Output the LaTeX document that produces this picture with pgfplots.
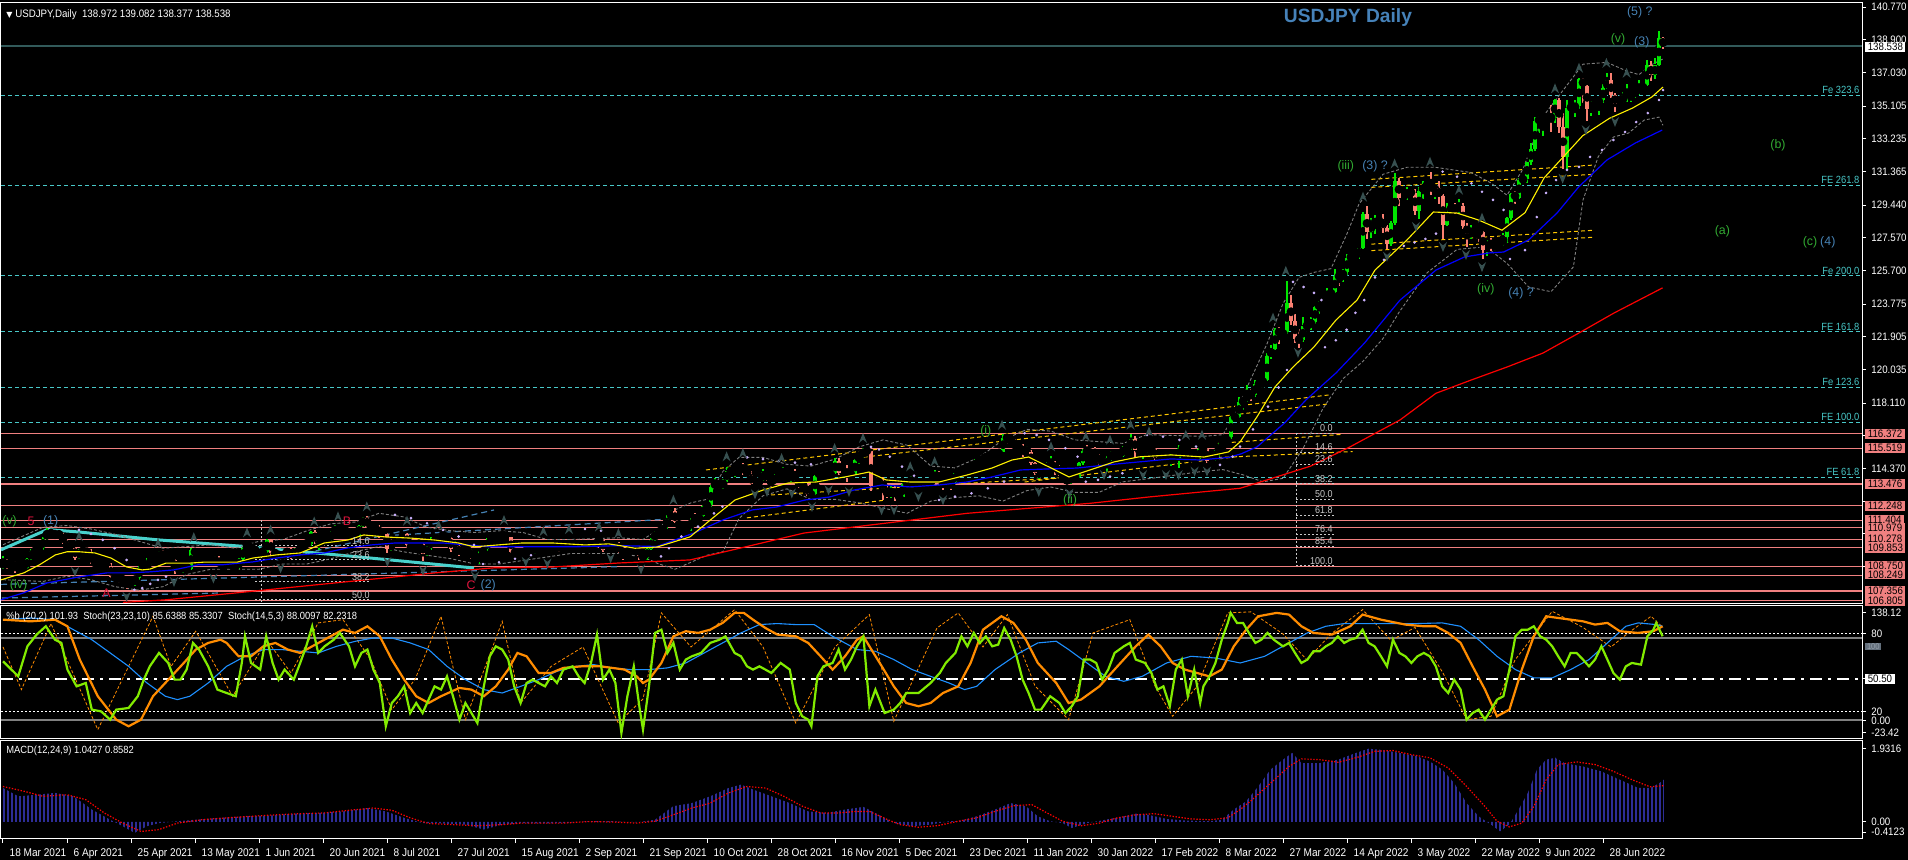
\documentclass[border=0pt]{standalone}
\usepackage{fontspec}
\setmainfont{Liberation Sans}
\newfontfamily\mt[FakeStretch=0.9]{Liberation Sans}
\newfontfamily\sym{DejaVu Sans}
\usepackage{pgfplots}
\usepackage{pgfplotstable}
\pgfplotsset{compat=1.18}
\usetikzlibrary{patterns.meta}
\newcommand\fs[1]{\fontsize{#1}{#1}\selectfont}
\definecolor{bullc}{RGB}{0,230,0}
\definecolor{bearc}{RGB}{250,128,114}
\definecolor{salm}{RGB}{240,128,128}
\definecolor{cyd}{RGB}{72,200,200}
\definecolor{teal2}{RGB}{50,90,90}
\definecolor{goldd}{RGB}{255,200,0}
\definecolor{steel}{RGB}{70,130,180}
\definecolor{turq}{RGB}{72,209,204}
\definecolor{bbg}{RGB}{128,128,128}
\definecolor{sarc}{RGB}{200,175,250}
\definecolor{frac}{RGB}{55,80,80}
\definecolor{limec}{RGB}{130,235,0}
\definecolor{orc}{RGB}{255,140,0}
\definecolor{dblue}{RGB}{30,144,255}
\definecolor{macdc}{RGB}{45,45,150}
\definecolor{wgreen}{RGB}{50,170,50}
\definecolor{wred}{RGB}{220,20,60}
\definecolor{titlec}{RGB}{70,130,185}
\definecolor{fibc}{RGB}{200,200,200}

\pgfdeclareplotmark{fup}{%
 \pgfpathmoveto{\pgfqpoint{0pt}{1.1\pgfplotmarksize}}%
 \pgfpathlineto{\pgfqpoint{0.85\pgfplotmarksize}{-1\pgfplotmarksize}}%
 \pgfpathlineto{\pgfqpoint{0pt}{-0.3\pgfplotmarksize}}%
 \pgfpathlineto{\pgfqpoint{-0.85\pgfplotmarksize}{-1\pgfplotmarksize}}%
 \pgfpathclose\pgfusepathqfill}
\pgfdeclareplotmark{fdown}{%
 \pgfpathmoveto{\pgfqpoint{0pt}{-1.1\pgfplotmarksize}}%
 \pgfpathlineto{\pgfqpoint{0.85\pgfplotmarksize}{1\pgfplotmarksize}}%
 \pgfpathlineto{\pgfqpoint{0pt}{0.3\pgfplotmarksize}}%
 \pgfpathlineto{\pgfqpoint{-0.85\pgfplotmarksize}{1\pgfplotmarksize}}%
 \pgfpathclose\pgfusepathqfill}

\pgfplotsset{
  mt/.style={scale only axis, anchor=north west, width=930.5pt, xmin=-0.5, xmax=464.75,
    axis line style={white, line width=0.5pt},
    tick style={white, line width=0.5pt}, tick align=outside, major tick length=2pt,
    ytick pos=right, yticklabel pos=right, xtick pos=bottom,
    ticklabel style={font=\mt\fs{5.4}, text=white},
    yticklabel style={xshift=-0.8pt},
    clip mode=individual,
    /pgf/number format/assume math mode=true},
}
\tikzset{wl/.style={font=\fs{6.2}, inner sep=0pt}}

\pgfplotstableread{
o h l c
108.85 109.36 108.61 108.92
108.92 109.20 108.61 108.88
108.88 108.95 108.80 108.86
108.86 109.05 108.41 108.83
108.83 108.90 108.43 108.58
108.58 108.85 108.42 108.69
108.69 109.25 108.60 109.18
109.18 109.74 109.10 109.64
109.64 109.70 109.58 109.62
109.62 109.86 109.46 109.80
109.80 110.42 109.71 110.35
110.35 110.97 110.25 110.72
110.72 110.86 110.44 110.61
110.61 110.69 110.46 110.61
110.61 110.65 110.53 110.58
110.58 110.68 110.05 110.16
110.16 110.30 109.70 109.74
109.74 109.98 109.63 109.84
109.84 109.86 109.13 109.26
109.26 109.76 109.18 109.66
109.66 109.70 109.60 109.63
109.63 109.85 109.36 109.40
109.40 109.77 108.90 109.07
109.07 109.14 108.77 108.91
108.91 109.02 108.61 108.77
108.77 108.95 108.62 108.78
108.78 108.84 108.74 108.80
108.80 108.95 108.11 108.16
108.16 108.27 107.96 108.10
108.10 108.35 107.79 108.07
108.07 108.16 107.85 107.96
107.96 108.05 107.48 107.89
107.89 107.95 107.82 107.90
107.90 108.20 107.66 108.11
108.11 108.79 108.01 108.69
108.69 108.90 108.49 108.59
108.59 109.22 108.50 108.92
108.92 109.37 108.85 109.31
109.31 109.38 109.25 109.33
109.33 109.63 109.12 109.42
109.42 109.69 109.18 109.38
109.38 109.50 109.13 109.20
109.20 109.32 108.96 109.10
109.10 109.17 108.34 108.59
108.59 108.65 108.52 108.60
108.60 108.91 108.40 108.79
108.79 108.88 108.54 108.62
108.62 109.79 108.54 109.69
109.69 109.79 109.33 109.49
109.49 109.64 109.19 109.36
109.36 109.42 109.30 109.37
109.37 109.40 109.11 109.21
109.21 109.28 108.86 108.91
108.91 109.35 108.86 109.20
109.20 109.33 108.73 108.77
108.77 109.00 108.56 108.97
108.97 109.02 108.92 108.98
108.98 109.08 108.70 108.75
108.75 108.86 108.56 108.74
108.74 109.23 108.63 109.17
109.17 109.90 109.10 109.83
109.83 110.19 109.76 109.84
109.84 109.90 109.78 109.85
109.85 109.89 109.48 109.58
109.58 109.71 109.32 109.49
109.49 109.83 109.42 109.58
109.58 110.33 109.54 110.29
110.29 110.35 109.38 109.52
109.52 109.58 109.46 109.50
109.50 109.64 109.19 109.25
109.25 109.61 109.21 109.48
109.48 109.77 109.41 109.64
109.64 109.84 109.18 109.33
109.33 109.80 109.27 109.66
109.66 109.72 109.60 109.68
109.68 110.10 109.62 110.06
110.06 110.22 109.97 110.07
110.07 110.81 109.95 110.71
110.71 110.82 110.05 110.19
110.19 110.46 109.70 110.21
110.21 110.26 110.12 110.18
110.18 110.47 109.99 110.34
110.34 110.79 110.24 110.65
110.65 111.11 110.59 110.98
110.98 111.01 110.80 110.87
110.87 110.95 110.60 110.76
110.76 110.82 110.70 110.74
110.74 110.75 110.45 110.62
110.62 110.68 110.33 110.53
110.53 111.11 110.50 111.10
111.10 111.61 111.00 111.54
111.54 111.66 110.97 111.03
111.03 111.09 110.97 111.02
111.02 111.10 110.86 110.95
110.95 111.13 110.38 110.62
110.62 110.77 110.47 110.64
110.64 110.65 109.53 109.77
109.77 110.20 109.63 110.14
110.14 110.20 110.08 110.16
110.16 110.45 110.01 110.35
110.35 110.70 110.25 110.61
110.61 110.68 109.90 109.97
109.97 110.04 109.72 109.82
109.82 110.15 109.73 110.07
110.07 110.12 109.99 110.05
110.05 110.08 109.07 109.45
109.45 109.94 109.35 109.85
109.85 110.42 109.72 110.30
110.30 110.37 110.04 110.13
110.13 110.60 110.10 110.55
110.55 110.60 110.50 110.53
110.53 110.59 110.25 110.37
110.37 110.43 109.60 109.77
109.77 110.21 109.67 109.91
109.91 109.99 109.36 109.47
109.47 109.81 109.42 109.71
109.71 109.76 109.66 109.69
109.69 109.74 109.20 109.30
109.30 109.36 108.72 109.05
109.05 109.63 108.90 109.47
109.47 109.80 109.44 109.78
109.78 110.37 109.66 110.24
110.24 110.30 110.18 110.25
110.25 110.37 110.16 110.29
110.29 110.61 110.19 110.59
110.59 110.80 110.34 110.41
110.41 110.49 110.32 110.42
110.42 110.46 109.55 109.58
109.58 109.63 109.52 109.56
109.56 109.63 109.12 109.25
109.25 109.66 109.11 109.60
109.60 109.91 109.51 109.77
109.77 110.03 109.60 109.74
109.74 109.98 109.48 109.78
109.78 109.83 109.74 109.80
109.80 110.06 109.61 109.72
109.72 109.86 109.59 109.68
109.68 110.12 109.56 110.04
110.04 110.19 109.91 110.07
110.07 110.10 109.59 109.82
109.82 109.88 109.77 109.84
109.84 110.07 109.80 109.91
109.91 110.23 109.85 110.02
110.02 110.22 109.90 110.03
110.03 110.11 109.88 109.93
109.93 110.00 109.59 109.71
109.71 109.78 109.66 109.73
109.73 109.92 109.69 109.83
109.83 110.28 109.80 110.27
110.27 110.44 110.14 110.25
110.25 110.29 109.61 109.72
109.72 110.05 109.69 109.93
109.93 109.98 109.88 109.91
109.91 110.16 109.85 110.01
110.01 110.15 109.53 109.69
109.69 109.75 109.11 109.39
109.39 109.84 109.34 109.71
109.71 110.08 109.68 109.93
109.93 109.98 109.82 109.85
109.85 109.93 109.11 109.38
109.38 109.53 109.15 109.22
109.22 109.84 109.15 109.78
109.78 110.38 109.70 110.28
110.28 110.80 110.19 110.74
110.74 110.80 110.68 110.77
110.77 111.07 110.62 111.00
111.00 111.68 110.92 111.48
111.48 112.00 111.46 111.93
111.93 112.08 111.25 111.29
111.29 111.39 110.89 111.05
111.05 111.10 110.98 111.03
111.03 111.18 110.82 110.93
110.93 111.54 110.81 111.44
111.44 111.79 111.24 111.42
111.42 111.82 111.38 111.64
111.64 112.25 111.60 112.23
112.23 112.30 112.15 112.26
112.26 113.41 112.15 113.28
113.28 113.80 113.19 113.60
113.60 113.73 113.18 113.29
113.29 113.75 113.18 113.68
113.68 114.47 113.60 114.21
114.21 114.27 114.15 114.25
114.25 114.46 113.89 114.38
114.38 114.60 114.08 114.37
114.37 114.70 114.02 114.31
114.31 114.42 113.85 114.01
114.01 114.22 113.41 113.49
113.49 113.55 113.43 113.52
113.52 113.81 113.42 113.70
113.70 114.31 113.63 114.14
114.14 114.21 113.66 113.81
113.81 113.90 113.26 113.57
113.57 114.04 113.46 113.95
113.95 114.02 113.90 113.98
113.98 114.44 113.90 114.00
114.00 114.11 113.72 113.95
113.95 114.15 113.61 114.06
114.06 114.32 113.63 113.75
113.75 113.82 113.25 113.41
113.41 113.47 113.35 113.40
113.40 113.46 112.81 112.89
112.89 113.17 112.73 112.89
112.89 114.02 112.85 113.96
113.96 114.20 113.87 114.15
114.15 114.30 113.76 113.87
113.87 113.93 113.82 113.90
113.90 114.16 113.80 114.11
114.11 114.97 114.06 114.81
114.81 114.95 114.00 114.09
114.09 114.38 113.90 114.27
114.27 114.54 113.60 114.00
114.00 114.07 113.95 114.04
114.04 114.92 113.99 114.86
114.86 115.17 114.64 115.07
115.07 115.52 114.99 115.40
115.40 115.43 115.15 115.35
115.35 115.37 113.06 113.38
113.38 113.60 113.30 113.50
113.50 113.95 113.37 113.67
113.67 113.88 112.56 113.17
113.17 113.38 112.69 112.78
112.78 113.38 112.66 113.18
113.18 113.39 112.53 112.79
112.79 112.88 112.70 112.75
112.75 113.51 112.71 113.46
113.46 113.80 113.37 113.55
113.55 113.94 113.40 113.73
113.73 113.83 113.35 113.49
113.49 113.62 113.14 113.41
113.41 113.47 113.36 113.43
113.43 113.68 113.36 113.55
113.55 113.78 113.42 113.72
113.72 114.26 113.63 114.05
114.05 114.21 113.64 113.73
113.73 113.85 113.14 113.70
113.70 113.76 113.63 113.68
113.68 113.76 113.14 113.61
113.61 114.12 113.55 114.08
114.08 114.28 113.97 114.12
114.12 114.47 114.06 114.43
114.43 114.48 114.30 114.39
114.39 114.44 114.33 114.37
114.37 114.88 114.32 114.81
114.81 114.95 114.71 114.83
114.83 115.04 114.60 114.98
114.98 115.18 114.90 115.08
115.08 115.19 114.96 115.08
115.08 115.14 115.02 115.10
115.10 115.50 115.01 115.33
115.33 116.35 115.29 116.13
116.13 116.28 115.78 116.12
116.12 116.21 115.70 115.84
115.84 116.06 115.49 115.56
115.56 115.62 115.50 115.58
115.58 115.75 115.05 115.25
115.25 115.68 115.12 115.29
115.29 115.42 114.58 114.66
114.66 114.71 113.99 114.12
114.12 114.39 113.74 114.20
114.20 114.27 114.14 114.22
114.22 114.74 114.15 114.61
114.61 115.06 114.34 114.61
114.61 114.78 114.01 114.33
114.33 114.59 113.96 114.12
114.12 114.13 113.62 113.68
113.68 113.76 113.62 113.70
113.70 114.04 113.47 113.95
113.95 114.07 113.60 113.88
113.88 114.71 113.82 114.68
114.68 115.50 114.58 115.35
115.35 115.69 115.08 115.26
115.26 115.32 115.19 115.24
115.24 115.57 114.95 115.13
115.13 115.20 114.56 114.69
114.69 114.79 114.33 114.49
114.49 115.07 114.15 114.97
114.97 115.39 114.81 115.20
115.20 115.26 115.14 115.22
115.22 115.38 114.97 115.10
115.10 115.67 115.04 115.56
115.56 115.64 115.34 115.55
115.55 116.34 115.45 116.04
116.04 116.22 115.01 115.42
115.42 115.50 115.36 115.45
115.45 115.66 114.92 115.57
115.57 115.78 115.24 115.58
115.58 115.68 115.33 115.48
115.48 115.56 114.80 114.95
114.95 115.24 114.83 114.99
114.99 115.05 114.93 115.01
115.01 115.15 114.62 114.75
114.75 115.18 114.52 115.04
115.04 115.11 114.87 114.98
114.98 115.70 114.40 115.54
115.54 115.77 115.32 115.55
115.55 115.60 115.20 115.30
115.30 115.37 114.88 114.98
114.98 115.08 114.69 114.88
114.88 115.56 114.85 115.48
115.48 115.80 115.41 115.47
115.47 115.53 114.65 114.78
114.78 114.90 114.70 114.85
114.85 115.45 114.82 115.31
115.31 115.80 115.02 115.69
115.69 115.90 115.47 115.85
115.85 116.20 115.74 116.14
116.14 117.35 116.06 117.29
117.29 117.40 117.20 117.33
117.33 118.45 117.24 118.15
118.15 118.45 117.70 118.27
118.27 119.12 118.14 118.65
118.65 118.90 118.24 118.59
118.59 119.41 118.46 119.17
119.17 119.30 119.08 119.22
119.22 119.46 118.98 119.44
119.44 120.95 119.39 120.80
120.80 121.41 120.61 121.18
121.18 122.42 121.17 122.30
122.30 122.44 121.48 122.04
122.04 122.30 121.95 122.15
122.15 125.10 122.05 123.86
123.86 124.31 122.55 122.81
122.81 123.20 121.55 121.79
121.79 122.37 121.28 121.70
121.70 123.04 121.60 122.51
122.51 122.65 122.40 122.55
122.55 123.04 122.31 122.77
122.77 123.68 122.65 123.59
123.59 123.97 123.21 123.77
123.77 124.04 123.63 123.97
123.97 124.68 123.92 124.34
124.34 124.50 124.25 124.45
124.45 125.77 124.38 125.38
125.38 125.63 124.82 125.35
125.35 125.76 125.04 125.63
125.63 126.64 125.45 126.43
126.43 126.68 126.28 126.45
126.45 126.60 126.35 126.50
126.50 127.01 126.38 126.97
126.97 129.02 126.92 128.90
128.90 129.40 127.50 127.89
127.89 128.71 127.53 128.41
128.41 128.85 127.77 128.50
128.50 128.70 128.40 128.60
128.60 128.91 127.86 128.13
128.13 128.31 126.95 127.23
127.23 128.55 127.12 128.39
128.39 131.25 128.32 130.82
130.82 131.01 129.37 129.85
129.85 130.05 129.75 129.95
129.95 130.48 129.72 130.19
130.19 130.30 129.89 130.14
130.14 130.35 128.87 129.12
129.12 130.45 128.62 130.22
130.22 130.80 129.80 130.56
130.56 130.70 130.40 130.60
130.60 131.34 130.04 130.30
130.30 130.52 129.76 130.42
130.42 130.81 129.50 129.93
129.93 130.07 127.52 128.32
128.32 129.55 128.25 129.19
129.19 129.35 129.10 129.25
129.25 129.57 128.91 129.17
129.17 129.77 128.94 129.38
129.38 129.54 128.05 128.24
128.24 128.40 127.03 127.79
127.79 128.30 127.52 127.88
127.88 128.05 127.80 127.95
127.95 128.12 127.35 127.88
127.88 127.93 126.36 126.86
126.86 127.45 126.55 127.32
127.32 127.56 126.82 127.11
127.11 127.32 126.81 127.11
127.11 127.25 127.00 127.15
127.15 127.84 127.10 127.61
127.61 128.76 127.29 128.68
128.68 130.14 128.60 130.06
130.06 130.23 129.51 129.87
129.87 130.98 129.76 130.87
130.87 131.00 130.80 130.95
130.95 131.93 130.70 131.90
131.90 132.99 131.71 132.64
132.64 134.47 132.55 134.22
134.22 134.56 133.55 134.39
134.39 134.48 133.39 134.40
134.40 134.60 134.30 134.50
134.50 135.19 133.60 134.43
134.43 135.50 134.15 135.45
135.45 135.59 133.55 133.92
133.92 134.68 131.49 132.20
132.20 135.44 131.50 135.00
135.00 135.15 134.85 135.05
135.05 135.44 134.45 135.08
135.08 136.71 134.96 136.64
136.64 136.71 135.27 136.25
136.25 136.29 134.27 134.95
134.95 135.37 134.54 135.21
135.21 135.35 135.10 135.25
135.25 135.58 134.57 135.46
135.46 136.38 135.27 136.13
136.13 137.00 136.05 136.59
136.59 136.97 135.56 135.72
135.72 135.83 134.75 135.21
135.21 135.40 135.15 135.30
135.30 135.91 135.25 135.71
135.71 136.38 135.36 135.88
135.88 136.00 135.31 135.93
135.93 136.18 135.54 136.02
136.02 136.57 135.75 136.07
136.07 136.35 136.00 136.30
136.30 137.75 136.25 137.43
137.43 137.68 136.55 136.87
136.87 137.87 136.66 137.43
137.43 139.38 137.38 138.97
138.97 139.08 138.38 138.54
}\ohlc

\begin{document}
\begin{tikzpicture}
\fill[black] (0pt,0pt) rectangle (954pt,-430pt);

%================ MAIN PANEL =================
\begin{axis}[mt, at={(0.5pt,-1.5pt)}, height=300.5pt, ymin=106.61, ymax=141.0,
  xtick=\empty,
  ytick={140.77,138.9,137.03,135.105,133.235,131.365,129.44,127.57,125.7,123.775,121.905,120.035,118.11,116.24,114.37,112.5,110.63,108.76},
  yticklabels={140.770,138.900,137.030,135.105,133.235,131.365,129.440,127.570,125.700,123.775,121.905,120.035,118.110,,114.370,,,},
  unbounded coords=jump]

% horizontal levels
\addplot[salm, line width=0.6pt, forget plot] coordinates {
(-0.5,116.372)(464.75,116.372)(0,nan)(-0.5,115.519)(464.75,115.519)(0,nan)
(-0.5,113.476)(464.75,113.476)(0,nan)(-0.5,112.248)(464.75,112.248)(0,nan)
(-0.5,111.404)(464.75,111.404)(0,nan)(-0.5,110.979)(464.75,110.979)(0,nan)
(-0.5,110.278)(464.75,110.278)(0,nan)(-0.5,109.853)(464.75,109.853)(0,nan)
(-0.5,108.750)(464.75,108.750)(0,nan)(-0.5,108.249)(464.75,108.249)(0,nan)
(-0.5,107.356)(464.75,107.356)(0,nan)(-0.5,106.805)(464.75,106.805)};
\addplot[cyd, line width=0.5pt, dash pattern=on 2pt off 1.5pt, forget plot] coordinates {
(-0.5,135.73)(464.75,135.73)(0,nan)(-0.5,130.58)(464.75,130.58)(0,nan)
(-0.5,125.38)(464.75,125.38)(0,nan)(-0.5,122.19)(464.75,122.19)(0,nan)
(-0.5,118.99)(464.75,118.99)(0,nan)(-0.5,117.00)(464.75,117.00)(0,nan)
(-0.5,113.86)(464.75,113.86)};
\addplot[teal2, line width=0.6pt, forget plot] coordinates {(-0.5,138.538)(464.75,138.538)};

% fibonacci (early)
\addplot[fibc, line width=0.4pt, dash pattern=on 1pt off 1pt, forget plot] coordinates {
(64.5,111.4)(64.5,106.61)(0,nan)
(63,109.94)(92,109.94)(0,nan)(63,109.15)(92,109.15)(0,nan)(63,107.88)(92,107.88)(0,nan)(63,106.85)(92,106.85)};
% fibonacci (late)
\addplot[fibc, line width=0.4pt, dash pattern=on 1pt off 1pt, forget plot] coordinates {
(323.35,116.4)(323.35,108.8)(0,nan)
(323.35,116.4)(332.75,116.4)(0,nan)(323.35,115.29)(332.75,115.29)(0,nan)
(323.35,114.61)(332.75,114.61)(0,nan)(323.35,113.5)(332.75,113.5)(0,nan)
(323.35,112.6)(332.75,112.6)(0,nan)(323.35,111.7)(332.75,111.7)(0,nan)
(323.35,110.6)(332.75,110.6)(0,nan)(323.35,109.9)(332.75,109.9)(0,nan)
(323.35,108.8)(332.75,108.8)};

% channel lines
\addplot[goldd, line width=0.5pt, dash pattern=on 2pt off 1.5pt, forget plot] coordinates {
(175.75,114.28)(331.4,118.57)(0,nan)(213.5,114.97)(331.4,118.06)(0,nan)
(192,112.85)(268.6,113.89)(0,nan)(186,111.54)(220.7,112.56)(0,nan)
(255.4,113.59)(309.25,115.06)(0,nan)(303.7,115.8)(334.97,116.32)(0,nan)
(303.7,114.99)(337.4,115.33)(0,nan)
(342.1,130.91)(397.9,131.73)(0,nan)(342.1,130.45)(397.9,131.2)(0,nan)
(342.1,127.2)(397.9,128.0)(0,nan)(342.1,126.83)(397.9,127.6)};
\addplot[steel, line width=0.6pt, dash pattern=on 3pt off 2pt, forget plot] coordinates {
(-0.25,106.95)(54.5,107.24)(0,nan)(-0.5,107.73)(154.25,108.75)(0,nan)
(68.4,109.13)(122.75,111.99)(0,nan)(98,110.55)(165,111.45)};
\addplot[turq, line width=1.5pt, forget plot] coordinates {
(-0.5,109.71)(11.1,110.87)(19,110.73)(38.75,110.28)(60.5,109.9)(88.2,109.32)(117.75,108.67)};

% Bollinger bands
\addplot[bbg, line width=0.45pt, dash pattern=on 1.5pt off 1pt, forget plot] coordinates {
(0,110.0)(10,111.0)(16,111.1)(22,110.9)(28,110.6)(34,110.2)(40,109.8)(46,109.9)(52,110.0)(58,109.8)(64,110.2)(70,110.3)(76,110.8)(82,111.2)(88,111.3)(94,111.8)(100,111.6)(106,111.0)(112,110.8)(118,110.7)(124,110.8)(130,110.7)(136,110.3)(142,110.3)(148,110.35)(154,110.4)(160,110.3)(164,110.9)(168,112.0)(172,112.4)(176,112.6)(180,114.2)(184,115.0)(190,115.0)(196,114.6)(202,114.5)(208,114.9)(214,115.6)(220,116.0)(226,115.7)(232,114.5)(238,114.4)(244,115.0)(250,116.0)(256,116.6)(262,116.5)(268,116.0)(274,115.9)(280,115.8)(286,116.3)(300,116.2)(305,116.3)(308,117.5)(312,119.5)(316,121.5)(320,123.8)(324,125.3)(328,125.6)(332,125.8)(336,127.8)(339,129.5)(345,131.2)(351,131.6)(358,131.6)(367,131.3)(372,130.7)(376,130.0)(380,131.5)(385,134.5)(390,136.0)(395,137.5)(401,137.6)(406,137.1)(409,136.9)(412,137.45)(415,137.8)};
\addplot[bbg, line width=0.45pt, dash pattern=on 1.5pt off 1pt, forget plot] coordinates {
(0,108.0)(10,107.9)(16,108.2)(22,108.0)(28,107.6)(34,107.4)(40,107.6)(46,108.3)(52,108.6)(58,108.6)(64,108.6)(70,108.9)(76,108.9)(82,109.2)(88,109.6)(94,109.9)(100,109.6)(106,109.4)(112,109.2)(118,108.9)(124,108.9)(130,109.1)(136,109.3)(142,109.5)(148,109.5)(154,109.5)(160,109.3)(164,108.9)(168,108.6)(172,109.0)(176,109.4)(180,109.6)(184,111.5)(190,112.8)(196,113.2)(202,112.6)(208,112.6)(214,112.4)(220,112.1)(226,111.8)(232,112.5)(238,112.7)(244,112.8)(250,112.5)(256,113.1)(262,113.3)(268,113.0)(274,113.0)(280,113.6)(287,113.8)(300,114.2)(305,114.3)(310,114.0)(315,113.6)(320,113.8)(325,115.5)(330,117.8)(335,119.5)(340,120.5)(345,121.8)(349,123.3)(356,125.56)(363.5,126.9)(370.75,127.05)(376,126.1)(381.4,124.75)(387,124.48)(392.6,125.9)(395,129.73)(398.8,132.2)(402.6,133.33)(406.4,133.56)(410.3,134.3)(414,134.47)(415,134.0)};

% candles
\addplot[only marks, mark=none, forget plot, restrict expr to domain={\thisrow{c}-\thisrow{o}}{0:100},
  error bars/.cd, y dir=both, y explicit, error mark=none, error bar style={draw=bullc, line width=0.6pt}]
  table[x expr=\coordindex, y expr={(\thisrow{h}+\thisrow{l})/2}, y error expr={(\thisrow{h}-\thisrow{l})/2}]{\ohlc};
\addplot[only marks, mark=none, forget plot, restrict expr to domain={\thisrow{c}-\thisrow{o}}{-100:-0.0001},
  error bars/.cd, y dir=both, y explicit, error mark=none, error bar style={draw=bearc, line width=0.6pt}]
  table[x expr=\coordindex, y expr={(\thisrow{h}+\thisrow{l})/2}, y error expr={(\thisrow{h}-\thisrow{l})/2}]{\ohlc};
\addplot[only marks, mark=none, forget plot, restrict expr to domain={\thisrow{c}-\thisrow{o}}{0:100},
  error bars/.cd, y dir=both, y explicit, error mark=none, error bar style={draw=bullc, line width=1.6pt}]
  table[x expr=\coordindex, y expr={(\thisrow{o}+\thisrow{c})/2}, y error expr={max(abs(\thisrow{c}-\thisrow{o})/2,0.012)}]{\ohlc};
\addplot[only marks, mark=none, forget plot, restrict expr to domain={\thisrow{c}-\thisrow{o}}{-100:-0.0001},
  error bars/.cd, y dir=both, y explicit, error mark=none, error bar style={draw=bearc, line width=1.6pt}]
  table[x expr=\coordindex, y expr={(\thisrow{o}+\thisrow{c})/2}, y error expr={max(abs(\thisrow{c}-\thisrow{o})/2,0.012)}]{\ohlc};

% moving averages
\addplot[red, line width=0.6pt, forget plot] coordinates {
(30,106.7)(40.75,106.85)(58.5,107.25)(78,107.7)(98,108.16)(108,108.39)(122.75,108.68)(137.5,108.73)(154.25,108.96)(171.75,109.13)(200.25,110.67)(241.1,111.8)(271.7,112.37)(286.75,112.74)(309.25,113.23)(313.5,113.53)(326.9,114.5)(336.75,115.6)(349.25,117.14)(358.25,118.67)(367.1,119.43)(376,120.17)(385,120.97)(394,122.12)(402.75,123.26)(414.9,124.7)};
\addplot[blue, line width=0.6pt, forget plot] coordinates {
(-0.5,106.85)(5.2,107.25)(11.1,107.82)(19,108.16)(26,108.39)(31.9,108.39)(36.8,108.45)(42.7,108.56)(48.7,108.85)(54.6,108.85)(62.5,109.02)(68.4,109.24)(74.3,109.42)(80.3,109.53)(86.2,109.82)(92.1,109.99)(98,110.1)(104,110.1)(110,110.1)(115.8,109.99)(121.8,109.88)(127.7,109.88)(133.6,109.88)(142.5,109.88)(154.25,109.95)(163.5,109.9)(172.75,110.67)(180,111.42)(187.25,111.99)(193.4,112.16)(200.5,112.56)(206.6,112.73)(212.75,113.13)(219.75,113.42)(226.75,113.31)(234,113.42)(241,113.59)(247.25,113.88)(254.4,114.28)(261.5,114.34)(268.6,114.39)(276,114.57)(284,114.74)(292,114.91)(299.25,114.85)(306.4,115.0)(309.5,115.2)(313.5,115.6)(320.4,116.97)(325.75,118.29)(333.25,119.83)(340.4,121.55)(349.25,124.0)(358.25,125.72)(365.4,126.47)(371.6,126.7)(375.15,126.75)(381.4,127.44)(388.5,128.98)(393.9,130.47)(401,132.02)(408.1,132.99)(414.8,133.73)};
\addplot[yellow, line width=0.55pt, forget plot] coordinates {
(-0.5,107.99)(5.2,108.39)(9.1,108.85)(13.1,109.42)(16.05,109.6)(19,109.6)(23,109.53)(27,109.24)(30.9,108.73)(34.8,108.56)(36.8,108.61)(40.75,108.95)(46.75,108.95)(50.6,109.01)(54.6,109.01)(58.6,109.01)(62.5,109.24)(68.4,109.42)(74.3,109.53)(80.3,110.1)(86.2,110.27)(90.2,110.56)(96,110.44)(102,110.38)(108,110.27)(113.9,110.1)(117.8,109.88)(123.75,109.99)(129.7,110.1)(137.5,110.1)(145.5,109.99)(151.4,110.05)(154.25,109.95)(158,109.8)(163.5,109.87)(171.75,110.45)(177.75,111.59)(183,112.56)(190,113.13)(196.25,113.53)(203.25,113.59)(210.5,113.88)(216.5,114.16)(220.75,113.71)(226.75,113.59)(234,113.59)(241,113.99)(247.25,114.39)(252.25,114.85)(256.4,115.02)(261.5,114.45)(266.5,113.88)(271.75,114.28)(277.75,114.74)(284,115.03)(292,115.14)(300.25,115.02)(306.4,115.31)(309.25,115.88)(313.5,117.32)(318,119.03)(322.5,120.17)(327.75,121.32)(333.25,122.86)(338.5,124.0)(343,125.72)(351,127.44)(357.6,129.04)(363.5,128.98)(368.9,128.58)(374.75,128.0)(380.5,129.0)(385.3,131.0)(389.3,132.0)(394.9,133.4)(401.6,134.4)(407.4,134.99)(412.2,135.62)(415,136.19)};

% parabolic SAR dots
\addplot[only marks, mark=*, mark size=0.45pt, sarc, forget plot] coordinates {
(19,110.85)(22,110.62)(24.95,110.28)(27.9,109.8)(30.9,109.13)
(32.85,107.42)(34.8,107.52)(36.8,107.76)(38.75,107.99)(40.75,108.18)
(98,111.71)(102,111.52)(106,111.23)(110,110.85)(113.9,110.47)(117.75,109.99)
(120,108.9)(124,109.0)(128,109.2)(132,109.4)
(145.5,110.9)(149.5,110.8)(154,110.6)
(164.5,109.33)(166.5,109.8)(169.6,110.47)(173.75,111.04)(177.75,111.8)(179.85,112.18)
(186,115.0)(190,114.9)(194,114.8)(198,114.7)(202,114.6)
(217,115.6)(219,115.45)(221.7,115.04)(224.75,114.47)(227.75,113.95)
(234,112.56)(238,112.75)(242.1,112.94)(246.2,113.23)(250.25,113.61)
(255.4,116.38)(258.4,116.28)(261.5,116.0)(265.6,115.52)(268.65,115.04)
(270.7,113.61)(273.75,113.71)(276.75,113.9)(279.85,114.09)
(286,116.28)(290,116.19)(294.1,116.0)(298.25,115.62)
(301.25,114.18)(304.25,114.57)(307.4,115.04)(309.25,115.62)(312.5,116.6)(316.25,117.9)(318.9,119.0)(321,120.0)
(322.5,125.04)(325.15,124.75)(327.75,124.41)(329.6,124.0)
(330.5,121.3)(333.2,121.7)(335.9,122.3)(338.1,123.27)(340.3,124.0)(343,125.3)(345.25,126.3)(350.2,127.1)(352.9,127.3)(355.6,127.5)(358.25,127.8)
(359.9,131.35)(363.5,131.06)(367.1,130.68)(369.75,130.2)(372.5,129.73)(375.15,129.16)
(376.75,126.35)(380.5,126.86)(383.45,128.75)(385.75,130.13)(388.25,130.87)(391,131.45)(394,131.62)(396.75,132.19)(399.75,132.59)(402.6,133.16)(405.5,133.62)(408.3,134.19)(411.2,134.7)(414,135.45)(415,136.02)};

% fractals
\addplot[only marks, mark=fup, mark size=2.4pt, frac, forget plot] coordinates {
(19,110.47)(38.75,110.08)(47.7,110.42)(61,110.69)(66.9,110.85)(77.8,111.32)(83.75,111.61)(90.95,112.18)(101,111.36)(108.9,111.13)(125.25,111.4)(135.1,110.76)(141.5,110.88)(149,111.03)(153.85,110.65)(167.6,112.56)(180.9,115.04)(184.97,115.23)(194.65,114.95)(207.9,115.52)(215,116.1)(226.8,114.47)(232.9,114.76)(249.75,116.85)(262,115.61)(270.7,116.19)(276.75,116.0)(281.9,116.85)(286.5,116.47)(295.7,116.28)(299.75,116.28)(317.5,122.98)(320.7,125.66)(340,129.9)(347.9,131.8)(356.75,131.9)(364,130.3)(369.75,128.7)(388,136.1)(394,137.28)(400.85,137.56)(405.9,136.99)};
\addplot[only marks, mark=fdown, mark size=2.4pt, frac, forget plot] coordinates {
(18,108.46)(30.9,107.03)(42.75,107.88)(52.6,108.08)(69.4,108.66)(96.1,109.03)(105,108.53)(118,108.2)(130.7,109.03)(136.1,108.94)(151.9,109.23)(159.5,108.6)(188,112.9)(191,113.04)(197.2,112.95)(202.25,112.18)(206.4,113.13)(211.5,113.04)(219.65,111.99)(222.75,111.99)(228.85,112.76)(235,112.56)(258.95,113.04)(266.6,112.94)(275.25,114.0)(285,114.0)(290.75,114.0)(293.9,114.0)(297.9,114.2)(301,114.2)(323.75,121.0)(346,126.5)(353.25,128.2)(360,127.05)(365.75,126.6)(369.75,125.9)(389.9,130.96)(395.7,133.73)(403,134.21)};

% texts
\node[anchor=north west, font=\mt\fs{5.4}, text=white, inner sep=0pt] at (rel axis cs:0,1) [xshift=2.5pt, yshift=-3.3pt] {{\sym\fs{4}▼} USDJPY,Daily\ \ 138.972 139.082 138.377 138.538};
\node[font=\bfseries\fs{9.6}, text=titlec, inner sep=0pt] at (axis cs:336.25,140.14) {USDJPY Daily};

\begin{scope}[every node/.style={anchor=south east, font=\mt\fs{5.2}, text=cyd, inner sep=0.6pt}]
\node at (axis cs:464.5,135.73) {Fe 323.6};
\node at (axis cs:464.5,130.58) {FE 261.8};
\node at (axis cs:464.5,125.38) {Fe 200.0};
\node at (axis cs:464.5,122.19) {FE 161.8};
\node at (axis cs:464.5,118.99) {Fe 123.6};
\node at (axis cs:464.5,117.00) {FE 100.0};
\node at (axis cs:464.5,113.86) {FE 61.8};
\end{scope}
\begin{scope}[every node/.style={anchor=south east, font=\mt\fs{5}, text=fibc, inner sep=0.5pt}]
\node at (axis cs:332.75,116.4) {0.0};
\node at (axis cs:332.75,115.29) {14.6};
\node at (axis cs:332.75,114.61) {23.6};
\node at (axis cs:332.75,113.5) {38.2};
\node at (axis cs:332.75,112.6) {50.0};
\node at (axis cs:332.75,111.7) {61.8};
\node at (axis cs:332.75,110.6) {76.4};
\node at (axis cs:332.75,109.9) {85.4};
\node at (axis cs:332.75,108.8) {100.0};
\node at (axis cs:92,109.94) {14.6};
\node at (axis cs:92,109.15) {23.6};
\node at (axis cs:92,107.88) {38.2};
\node at (axis cs:92,106.85) {50.0};
\end{scope}

% wave labels
\node[wl, text=wgreen, anchor=west] at (axis cs:-0.25,111.32) {(v)};
\node[wl, text=wred] at (axis cs:7,111.32) {5};
\node[wl, text=steel] at (axis cs:11.9,111.32) {(1)};
\node[wl, text=wgreen] at (axis cs:3.9,107.7) {(iv)};
\node[wl, text=wred] at (axis cs:25.9,107.23) {A};
\node[wl, text=wred] at (axis cs:86,111.32) {B};
\node[wl, text=wred] at (axis cs:117,107.7) {C};
\node[wl, text=steel] at (axis cs:121.3,107.7) {(2)};
\node[wl, text=wgreen] at (axis cs:245.7,116.49) {(i)};
\node[wl, text=wgreen] at (axis cs:266.75,112.56) {(ii)};
\node[wl, text=wgreen] at (axis cs:335.7,131.66) {(iii)};
\node[wl, text=steel] at (axis cs:343,131.66) {(3) ?};
\node[wl, text=wgreen] at (axis cs:370.7,124.64) {(iv)};
\node[wl, text=steel] at (axis cs:379.5,124.41) {(4) ?};
\node[wl, text=wgreen] at (axis cs:403.75,138.94) {(v)};
\node[wl, text=steel] at (axis cs:409.7,138.77) {(3)};
\node[wl, text=steel] at (axis cs:409.2,140.48) {(5) ?};
\node[wl, text=wgreen] at (axis cs:429.85,127.91) {(a)};
\node[wl, text=wgreen] at (axis cs:443.75,132.83) {(b)};
\node[wl, text=wgreen] at (axis cs:451.75,127.28) {(c)};
\node[wl, text=steel] at (axis cs:456.2,127.28) {(4)};

% right price boxes
\begin{scope}[every node/.style={anchor=west, font=\mt\fs{5.4}, fill=salm, text=black, inner xsep=1.2pt, inner ysep=0.6pt, minimum height=4.6pt, xshift=1.5pt}]
\node at (axis cs:464.75,116.34) {116.372};
\node at (axis cs:464.75,115.54) {115.519};
\node at (axis cs:464.75,113.48) {113.476};
\node at (axis cs:464.75,112.22) {112.248};
\node at (axis cs:464.75,111.42) {111.404};
\node at (axis cs:464.75,110.96) {110.979};
\node at (axis cs:464.75,110.36) {110.278};
\node at (axis cs:464.75,109.84) {109.853};
\node at (axis cs:464.75,108.81) {108.750};
\node at (axis cs:464.75,108.30) {108.249};
\node at (axis cs:464.75,107.35) {107.356};
\node at (axis cs:464.75,106.81) {106.805};
\end{scope}
\node[anchor=west, font=\mt\fs{5.4}, fill=white, text=black, inner xsep=1.2pt, inner ysep=0.6pt, minimum height=4.6pt, xshift=1.5pt] at (axis cs:464.75,138.48) {138.538};
\end{axis}

%================ STOCHASTIC PANEL =================
\begin{axis}[mt, at={(0.5pt,-303pt)}, height=66.5pt, ymin=-0.77, ymax=101.5,
  xtick=\empty, ytick={96.15,80,45.4,20,13.1,3.85}, yticklabels={138.12,80,,20,0.00,-23.42},
  unbounded coords=jump]
\addplot[white, line width=0.5pt, dash pattern=on 1pt off 1pt, forget plot] coordinates {(-0.5,80)(464.75,80)(0,nan)(-0.5,20)(464.75,20)};
\addplot[bbg, line width=0.6pt, forget plot] coordinates {(-0.5,76.9)(464.75,76.9)(0,nan)(-0.5,13.85)(464.75,13.85)};
\addplot[white, line width=0.7pt, dash pattern=on 6pt off 3pt on 1.5pt off 3pt, forget plot] coordinates {(-0.5,45.4)(464.75,45.4)};
% fast stochastic (dashed)
\addplot[orc, line width=0.4pt, dash pattern=on 1.5pt off 1pt, forget plot] coordinates {
(0,70)(4.6,37.2)(12,88)(23.7,6.4)(37.5,93.6)(42,55)(48.2,82.1)(57.4,32.1)(66,75)(72,50)(78.8,88.5)(85,91)(92,60)(97.2,21.8)(103,45)(109.5,93.6)(115.6,14.1)(124.8,89.7)(129.4,26.9)(137,55)(145,70)(153.8,11.5)(160,30)(164.6,96.2)(172,70)(182.9,98.7)(190,70)(198.2,11.5)(208,70)(216.6,94.9)(222.7,12.8)(233.5,84.6)(238.8,96.2)(245,70)(251.1,94.9)(258,40)(266.4,14.1)(272.5,80.8)(281.7,91.0)(288,40)(292.4,16.7)(298.5,39.7)(306.2,96.2)(312,97)(320,80)(326,60)(332,80)(339.9,98.7)(347,75)(353,85)(360,50)(365.9,14.1)(372,16.7)(378,60)(387.3,97.4)(395,85)(402,70)(406,80)(412,93.6)(415,85)};
% slow blue
\addplot[dblue, line width=0.55pt, forget plot] coordinates {
(0.0,91.0)(6.9,92.3)(13.0,91.0)(17.6,83.3)(22.2,75.6)(26.8,65.4)(31.4,55.1)(36.0,42.3)(40.6,32.1)(43.6,29.5)(46.7,32.1)(51.3,42.3)(55.9,55.1)(60.5,62.8)(65.1,68.0)(69.7,68.0)(74.3,66.7)(78.8,65.4)(83.4,70.5)(88.0,74.3)(92.6,76.9)(97.2,76.9)(101.8,73.1)(106.4,68.0)(111.0,55.1)(115.6,44.9)(120.2,37.2)(124.8,34.6)(129.4,39.7)(133.9,44.9)(138.5,51.3)(143.1,55.1)(147.7,56.4)(152.3,53.9)(156.9,52.6)(161.5,52.6)(166.1,53.9)(170.7,57.7)(175.3,65.4)(179.9,73.1)(184.5,80.8)(189.1,87.2)(193.6,88.0)(198.2,87.2)(202.8,87.2)(207.4,78.2)(213.5,68.0)(218.1,66.7)(222.7,60.3)(227.3,52.6)(231.9,47.4)(236.5,42.3)(240.4,37.2)(243.4,39.7)(248.0,52.6)(254.1,65.4)(258.7,73.1)(263.3,74.4)(266.4,68.0)(271.0,57.7)(275.6,47.4)(280.2,43.6)(284.8,47.4)(290.9,57.7)(297.0,62.8)(303.1,61.5)(309.3,57.7)(315.4,62.8)(321.5,73.1)(326.1,80.8)(330.7,85.9)(335.3,88.0)(344.5,88.0)(353.6,88.0)(359.8,88.5)(364.4,85.9)(368.9,75.6)(373.5,62.8)(378.1,52.6)(382.7,46.2)(387.3,46.2)(391.9,52.6)(396.5,60.3)(401.1,73.1)(405.7,85.9)(408.8,88.5)(413.3,87.2)(414.9,85.9)};
% orange
\addplot[orc, line width=1.1pt, forget plot] coordinates {
(0.0,91.0)(6.9,89.7)(13.0,91.0)(16.1,85.9)(19.2,60.3)(23.7,32.1)(28.3,14.1)(31.4,9.0)(34.5,14.1)(37.5,32.1)(42.1,47.4)(45.2,57.7)(48.2,68.0)(51.3,73.1)(54.4,75.6)(55.9,73.1)(58.9,62.8)(62.0,62.8)(65.1,70.5)(68.1,73.1)(71.2,68.0)(74.3,65.4)(77.3,70.5)(81.9,78.2)(85.0,83.3)(88.0,80.8)(91.1,85.9)(94.2,78.2)(97.2,60.3)(100.3,44.9)(103.3,32.1)(106.4,26.9)(109.5,32.1)(114.1,38.5)(117.1,37.2)(120.2,32.1)(123.2,39.7)(126.3,52.6)(128.6,65.4)(130.9,62.8)(133.9,50.0)(137.0,50.0)(140.1,53.9)(144.7,55.1)(149.3,55.1)(152.3,53.9)(155.4,52.6)(158.4,47.4)(160.0,42.3)(161.5,44.9)(164.6,57.7)(167.6,78.2)(170.7,82.1)(173.8,80.8)(176.8,83.3)(179.9,88.5)(182.9,96.2)(185.2,96.2)(187.5,91.0)(190.6,84.6)(193.6,79.5)(198.2,78.2)(201.3,73.1)(204.4,62.8)(207.4,52.6)(210.5,62.8)(213.5,75.6)(215.1,78.2)(216.6,70.5)(219.7,55.1)(222.7,39.7)(225.8,26.9)(228.9,24.4)(231.9,26.9)(235.0,34.6)(238.8,39.7)(241.9,57.7)(245.0,83.3)(249.6,93.6)(252.6,88.5)(255.7,75.6)(258.7,57.7)(263.3,42.3)(266.4,26.9)(269.5,29.5)(274.1,39.7)(278.6,55.1)(283.2,70.5)(286.3,79.5)(289.4,70.5)(292.4,57.7)(295.5,52.6)(298.5,50.0)(301.6,47.4)(304.7,52.6)(307.7,70.5)(310.8,83.3)(313.8,93.6)(318.4,96.2)(321.5,94.9)(324.6,85.9)(327.6,80.8)(332.2,79.5)(336.8,85.9)(339.9,94.9)(344.5,91.0)(350.6,87.2)(355.2,85.9)(358.2,85.9)(361.3,80.8)(364.4,73.1)(367.4,55.1)(370.5,37.2)(373.5,16.7)(376.6,21.8)(379.7,52.6)(382.7,78.2)(385.8,93.6)(388.8,92.3)(395.0,89.7)(398.0,87.2)(401.1,88.5)(404.2,82.1)(408.7,80.8)(412.6,82.1)(414.9,85.9)};
% lime %b
\addplot[limec, line width=1.1pt, forget plot] coordinates {
(0.0,59.0)(3.8,47.4)(6.1,70.5)(8.4,79.5)(10.7,85.9)(13.0,75.6)(14.6,73.1)(16.1,52.6)(18.4,39.7)(20.7,42.3)(22.2,21.8)(24.5,20.5)(26.8,14.1)(28.3,21.8)(31.4,23.1)(33.7,32.1)(35.2,44.9)(36.7,55.1)(39.0,65.4)(41.3,57.7)(42.9,44.9)(44.4,44.9)(45.9,52.6)(47.5,73.1)(49.0,68.0)(51.3,55.1)(53.6,37.2)(55.9,34.6)(58.2,32.1)(59.7,57.7)(60.5,78.2)(62.0,57.7)(64.3,52.6)(65.8,78.2)(67.4,57.7)(68.9,44.9)(70.4,52.6)(72.7,44.9)(74.3,57.7)(75.8,70.5)(77.3,85.9)(78.8,65.4)(80.4,70.5)(82.7,75.6)(84.2,80.8)(86.5,70.5)(88.0,55.1)(89.6,65.4)(91.1,68.0)(92.6,52.6)(94.2,42.3)(95.7,9.0)(97.2,26.9)(98.7,32.1)(100.3,39.7)(101.8,19.2)(103.3,26.9)(104.9,19.2)(106.4,29.5)(107.9,39.7)(109.5,37.2)(111.0,47.4)(112.5,32.1)(114.1,14.1)(115.6,26.9)(117.1,19.2)(118.6,11.5)(120.2,39.7)(121.7,62.8)(123.2,70.5)(124.8,68.0)(126.3,60.3)(127.8,39.7)(129.4,26.9)(130.9,42.3)(132.4,44.9)(133.9,42.3)(135.5,39.7)(137.0,47.4)(138.5,42.3)(140.1,52.6)(142.4,55.1)(143.9,47.4)(145.4,42.3)(147.0,57.7)(148.5,79.5)(150.0,44.9)(151.6,52.6)(153.1,42.3)(154.6,3.9)(156.1,32.1)(157.7,55.1)(159.2,21.8)(160.0,6.4)(161.5,39.7)(163.0,80.8)(164.6,83.3)(166.1,65.4)(167.6,73.1)(169.2,52.6)(170.7,60.3)(172.2,62.8)(174.5,65.4)(176.8,73.1)(179.1,75.6)(180.6,78.2)(182.9,65.4)(184.5,62.8)(186.0,55.1)(187.5,52.6)(189.1,55.1)(190.6,52.6)(192.1,50.0)(194.4,57.7)(196.7,52.6)(198.2,26.9)(199.8,16.7)(201.3,14.1)(202.1,9.0)(203.6,47.4)(205.1,55.1)(207.4,57.7)(208.9,68.0)(210.5,52.6)(212.0,60.3)(213.5,70.5)(215.1,78.2)(216.6,24.4)(218.1,37.2)(220.4,19.2)(222.7,21.8)(224.3,26.9)(225.8,34.6)(228.9,34.6)(231.9,42.3)(234.2,50.0)(235.7,57.7)(238.1,65.4)(239.6,78.2)(241.1,70.5)(242.7,80.8)(244.2,73.1)(245.7,78.2)(247.3,70.5)(248.8,71.8)(250.3,84.6)(251.9,75.6)(253.4,62.8)(254.9,44.9)(256.4,34.6)(258.0,21.8)(259.5,21.8)(261.8,32.1)(264.1,26.9)(265.6,19.2)(267.2,24.4)(268.7,32.1)(270.2,60.3)(271.8,60.3)(273.3,57.7)(274.8,44.9)(276.3,52.6)(277.9,65.4)(280.2,70.5)(281.7,73.1)(283.2,60.3)(285.5,57.7)(287.1,50.0)(288.6,37.2)(290.1,39.7)(291.7,24.4)(293.2,52.6)(294.7,60.3)(296.2,32.1)(297.8,52.6)(299.3,26.9)(300.1,39.7)(301.6,47.4)(303.1,57.7)(304.7,75.6)(306.2,88.5)(306.9,96.2)(308.5,88.5)(310.0,88.5)(311.5,80.8)(313.1,73.1)(314.6,75.6)(316.1,80.8)(317.7,75.6)(320.0,70.5)(321.5,73.1)(323.0,65.4)(324.6,57.7)(326.1,60.3)(327.6,66.7)(329.2,66.7)(330.7,70.5)(332.2,73.1)(333.7,78.2)(335.3,73.1)(336.8,75.6)(338.3,76.9)(339.9,83.3)(341.4,73.1)(342.9,70.5)(344.5,62.8)(346.0,55.1)(347.5,75.6)(349.1,65.4)(350.6,62.8)(352.1,57.7)(353.6,62.8)(355.2,65.4)(356.7,62.8)(358.2,55.1)(359.8,39.7)(361.3,34.6)(362.8,44.9)(364.4,37.2)(365.9,14.1)(367.4,19.2)(368.9,21.8)(370.5,14.1)(372.0,21.8)(373.5,29.5)(375.1,32.1)(376.6,52.6)(378.1,78.2)(379.7,83.3)(381.2,83.3)(382.7,85.9)(384.3,78.2)(385.8,75.6)(387.3,70.5)(388.8,62.8)(390.4,55.1)(391.9,65.4)(393.4,65.4)(395.0,60.3)(396.5,55.1)(398.0,60.3)(399.6,70.5)(401.1,60.3)(402.6,50.0)(404.2,44.9)(405.7,55.1)(407.2,57.7)(409.5,56.4)(411.1,78.2)(412.6,83.3)(413.3,88.5)(414.9,78.2)};
\node[anchor=north west, font=\mt\fs{5.2}, text=white, inner sep=0pt] at (rel axis cs:0,1) [xshift=2.5pt, yshift=-3pt] {\%b (20,2) 101.93\ \ Stoch(23,23,10) 85.6388 85.3307\ \ Stoch(14,5,3) 88.0097 82.2318};
\node[anchor=west, font=\mt\fs{5.4}, fill=white, text=black, inner xsep=1.2pt, inner ysep=0.7pt, xshift=1.5pt] at (axis cs:464.75,45.4) {50.50};
\node[anchor=west, font=\mt\fs{4.2}, fill={rgb,255:red,100;green,112;blue,125}, text={rgb,255:red,150;green,160;blue,170}, inner xsep=0.8pt, inner ysep=0.4pt, xshift=1.5pt] at (axis cs:464.75,70.5) {100};
\end{axis}

%================ MACD PANEL =================
\begin{axis}[mt, at={(0.5pt,-370.5pt)}, height=49pt, ymin=-0.45, ymax=2.143,
  ytick={1.9316,0,-0.265}, yticklabels={1.9316,0.00,-0.4123},
  xtick={0,16,...,400},
  xticklabels={18 Mar 2021,6 Apr 2021,25 Apr 2021,13 May 2021,1 Jun 2021,20 Jun 2021,8 Jul 2021,27 Jul 2021,15 Aug 2021,2 Sep 2021,21 Sep 2021,10 Oct 2021,28 Oct 2021,16 Nov 2021,5 Dec 2021,23 Dec 2021,11 Jan 2022,30 Jan 2022,17 Feb 2022,8 Mar 2022,27 Mar 2022,14 Apr 2022,3 May 2022,22 May 2022,9 Jun 2022,28 Jun 2022},
  xticklabel style={anchor=north west, font=\mt\fs{5.6}, xshift=-0.2pt, yshift=0.6pt}]
\addplot[draw=none, pattern={Lines[angle=90,distance=2pt,line width=0.55pt]}, pattern color=macdc, forget plot] coordinates {
(0,0)(0.0,0.90)(3.8,0.68)(8.4,0.72)(13.0,0.77)(17.6,0.68)(22.2,0.33)(26.8,0.06)(29.9,-0.11)(32.9,-0.29)(36.0,-0.11)(39.0,-0.03)(43.6,0.02)(48.2,0.06)(54.4,0.11)(60.5,0.15)(66.6,0.17)(72.7,0.22)(78.8,0.24)(85.0,0.28)(91.1,0.37)(95.7,0.28)(100.3,0.11)(104.9,-0.03)(109.5,-0.04)(115.6,-0.07)(120.2,-0.20)(124.8,-0.07)(129.4,-0.03)(133.9,-0.04)(140.1,-0.03)(146.2,0.02)(152.3,0.02)(158.4,-0.01)(163.0,0.06)(167.6,0.42)(172.2,0.50)(176.8,0.68)(181.4,0.90)(184.5,0.99)(187.5,0.86)(192.1,0.68)(196.7,0.50)(201.3,0.28)(205.9,0.24)(210.5,0.33)(215.1,0.40)(219.7,0.15)(222.7,-0.03)(227.3,-0.11)(231.9,-0.07)(236.5,0.02)(238.8,0.02)(243.4,0.15)(248.0,0.33)(251.9,0.50)(255.7,0.42)(258.7,0.15)(261.8,0.02)(264.9,-0.03)(267.2,-0.16)(271.0,-0.03)(275.6,0.06)(280.2,0.15)(283.2,0.22)(286.3,0.19)(290.9,0.08)(295.5,0.04)(301.6,0.02)(304.7,0.06)(307.7,0.33)(310.8,0.55)(313.8,0.94)(316.9,1.39)(320.0,1.65)(322.3,1.83)(324.6,1.56)(329.2,1.56)(333.8,1.65)(338.3,1.83)(341.4,1.94)(344.5,1.91)(349.1,1.83)(353.6,1.74)(356.7,1.60)(359.8,1.39)(362.8,1.03)(365.9,0.50)(368.9,0.15)(372.0,-0.07)(374.3,-0.25)(376.6,-0.07)(378.9,0.33)(381.2,0.77)(383.5,1.39)(385.8,1.65)(388.1,1.70)(390.4,1.56)(395.0,1.47)(399.6,1.34)(404.2,1.12)(408.8,0.90)(411.8,0.90)(414.1,1.03)(415.2,1.12)(415.2,0)};
\addplot[red, line width=0.6pt, dash pattern=on 0.7pt off 0.8pt, forget plot] coordinates {
(0.0,0.94)(5.4,0.81)(10.0,0.68)(16.1,0.72)(20.7,0.59)(25.3,0.24)(29.9,-0.03)(34.5,-0.25)(39.0,-0.20)(43.6,-0.03)(49.8,0.06)(55.9,0.11)(62.0,0.15)(68.1,0.19)(74.3,0.22)(80.4,0.24)(86.5,0.31)(92.6,0.37)(97.2,0.31)(101.8,0.11)(106.4,-0.04)(112.5,-0.07)(118.6,-0.10)(124.8,-0.07)(129.4,-0.03)(133.9,-0.03)(140.1,-0.03)(146.2,0.01)(152.3,0.00)(158.4,-0.03)(163.0,0.02)(167.6,0.19)(172.2,0.37)(176.8,0.50)(181.4,0.77)(186.0,0.94)(190.6,0.90)(195.2,0.68)(199.8,0.42)(204.4,0.24)(209.0,0.24)(213.5,0.28)(216.6,0.28)(221.2,0.06)(224.3,-0.07)(228.9,-0.14)(233.5,-0.10)(238.8,0.02)(243.4,0.11)(248.0,0.28)(252.6,0.43)(257.2,0.46)(260.3,0.28)(264.9,0.02)(269.5,-0.10)(274.1,-0.03)(278.6,0.11)(283.2,0.19)(287.8,0.22)(292.4,0.15)(297.0,0.08)(301.6,0.06)(306.2,0.11)(309.3,0.33)(312.3,0.59)(316.9,1.03)(321.5,1.47)(324.6,1.67)(329.2,1.65)(333.8,1.58)(338.3,1.70)(342.9,1.87)(347.5,1.89)(352.1,1.78)(356.7,1.70)(361.3,1.43)(365.9,0.94)(370.5,0.41)(373.5,0.02)(376.6,-0.13)(379.7,-0.03)(382.7,0.41)(385.8,1.12)(388.8,1.52)(393.4,1.59)(398.0,1.52)(402.6,1.34)(407.2,1.12)(411.8,0.93)(415.2,0.96)};
\node[anchor=north west, font=\mt\fs{5.2}, text=white, inner sep=0pt] at (rel axis cs:0,1) [xshift=2.5pt, yshift=-2.5pt] {MACD(12,24,9) 1.0427 0.8582};
\end{axis}

\pgfresetboundingbox
\useasboundingbox (0pt,0pt) rectangle (954pt,-430pt);
\end{tikzpicture}
\end{document}
